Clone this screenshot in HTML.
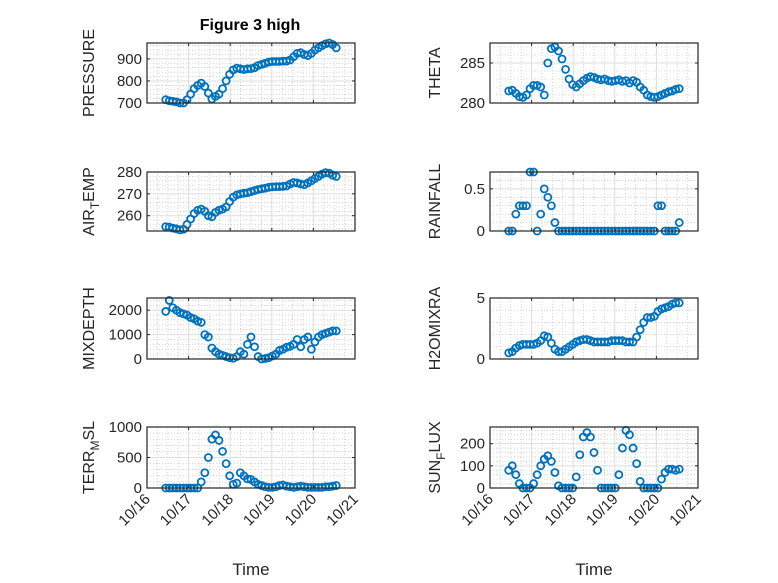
<!DOCTYPE html>
<html><head><meta charset="utf-8"><style>
body{margin:0;background:#fff;}
svg{display:block;font-family:"Liberation Sans",sans-serif;}
</style></head><body>
<svg id="fig" width="778" height="583" viewBox="0 0 778 583"></svg>
<script>
const timesStart = 16.45, timesStep = 0.0854;
const pressure = [715,710,708,705,700,700,715,740,765,780,790,775,745,718,730,740,765,800,830,850,858,855,852,855,856,860,870,875,880,886,888,888,888,890,890,895,910,925,928,920,915,925,940,950,960,968,972,965,950];
const theta = [281.5,281.6,281.2,280.8,280.7,281.0,281.8,282.2,282.2,282.0,281.0,285.0,286.8,287.0,286.5,285.5,284.2,283.0,282.3,282.0,282.4,282.8,283.1,283.3,283.2,283.0,282.9,283.0,282.8,282.7,282.8,282.9,282.7,282.8,282.5,282.8,282.6,282.0,281.6,281.0,280.8,280.7,280.8,281.0,281.2,281.4,281.5,281.7,281.8];
const airTemp = [255,254.8,254.3,254,253.5,253.8,256,258.5,261,262.5,263,262,260,259.5,261.5,262.5,263,264,266.5,268.5,269.5,270,270.3,270.5,271,271.5,272,272.3,272.6,273,273.2,273.3,273.3,273.4,273.6,274.5,275.2,275,274.5,274.2,275,276,277,278,279,279.7,279.5,278.5,278];
const rainfall = [0,0,0.2,0.3,0.3,0.3,0.7,0.7,0,0.2,0.5,0.4,0.3,0.1,0,0,0,0,0,0,0,0,0,0,0,0,0,0,0,0,0,0,0,0,0,0,0,0,0,0,0,0,0.3,0.3,0,0,0,0,0.1];
const mixDepth = [1950,2400,2100,2000,1900,1850,1800,1700,1650,1550,1500,1000,900,450,300,200,150,100,50,30,100,300,200,600,900,500,100,0,20,50,120,200,350,400,480,520,600,800,500,800,900,400,700,900,1000,1050,1100,1150,1150];
const h2oMix = [0.5,0.6,0.9,1.1,1.2,1.2,1.2,1.2,1.3,1.5,1.9,1.8,1.3,0.8,0.6,0.6,0.8,1.0,1.2,1.4,1.5,1.6,1.6,1.5,1.4,1.4,1.4,1.4,1.4,1.5,1.5,1.5,1.5,1.4,1.4,1.4,1.8,2.4,3.0,3.4,3.4,3.5,3.9,4.1,4.2,4.3,4.5,4.6,4.6];
const terrMsl = [0,0,0,0,0,0,0,0,0,0,100,250,500,800,870,780,600,400,200,60,80,250,200,150,140,100,60,40,20,10,10,20,40,50,30,20,10,20,30,20,10,10,10,10,10,20,20,30,40];
const sunFlux = [80,100,60,20,0,0,0,20,60,100,130,145,120,70,10,0,0,0,0,50,150,230,250,230,160,80,0,0,0,0,0,60,180,260,240,180,110,30,0,0,0,0,0,40,70,85,85,80,85];
const xTickLabels = ["10/16","10/17","10/18","10/19","10/20","10/21"];
const xTickDays = [16,17,18,19,20,21];

const NS="http://www.w3.org/2000/svg";
const svg=document.getElementById('fig');
function mk(tag,attrs,parent){const e=document.createElementNS(NS,tag);for(const k in attrs)e.setAttribute(k,attrs[k]);(parent||svg).appendChild(e);return e;}

const cols=[147,490], W=208;
const rows=[[43,103],[172,231],[298,359],[427,488]];
const panels=[
 {name:'pressure',data:pressure,col:0,row:0,yl:[700,972],ticks:[700,800,900],minor:20,label:['PRESSURE']},
 {name:'theta',data:theta,col:1,row:0,yl:[280,287.5],ticks:[280,285],minor:1,label:['THETA']},
 {name:'air-temp',data:airTemp,col:0,row:1,yl:[253,280],ticks:[260,270,280],minor:2,label:['AIR','T','EMP']},
 {name:'rainfall',data:rainfall,col:1,row:1,yl:[0,0.7],ticks:[0,0.5],minor:0.1,label:['RAINFALL']},
 {name:'mixdepth',data:mixDepth,col:0,row:2,yl:[0,2500],ticks:[0,1000,2000],minor:200,label:['MIXDEPTH']},
 {name:'h2omixra',data:h2oMix,col:1,row:2,yl:[0,5],ticks:[0,5],minor:1,label:['H2OMIXRA']},
 {name:'terr-msl',data:terrMsl,col:0,row:3,yl:[0,1000],ticks:[0,500,1000],minor:100,label:['TERR','M','SL']},
 {name:'sun-flux',data:sunFlux,col:1,row:3,yl:[0,275],ticks:[0,100,200],minor:20,label:['SUN','F','LUX']}
];

mk('text',{x:250,y:30,'text-anchor':'middle','font-size':16,'font-weight':'bold',fill:'#000',}).textContent='Figure 3 high';

panels.forEach(p=>{
  const x0=cols[p.col], x1=x0+W, y0=rows[p.row][0], y1=rows[p.row][1];
  const xs=d=>x0+(d-16)/5*W;
  const ys=v=>y1-(v-p.yl[0])/(p.yl[1]-p.yl[0])*(y1-y0);
  const g=mk('g',{});
  
  
  for(let d=16;d<=21;d+=0.25){ if(Math.abs(d-Math.round(d))<1e-6) continue;
    mk('line',{x1:xs(d),x2:xs(d),y1:y0,y2:y1,stroke:'#bbb','stroke-width':0.6,'stroke-dasharray':'1 2'},g);}
  for(let v=Math.ceil(p.yl[0]/p.minor)*p.minor;v<=p.yl[1]+1e-9;v+=p.minor){
    if(p.ticks.some(t=>Math.abs(t-v)<1e-6)) continue;
    mk('line',{x1:x0,x2:x1,y1:ys(v),y2:ys(v),stroke:'#bbb','stroke-width':0.6,'stroke-dasharray':'1 2'},g);}
  xTickDays.forEach(d=>mk('line',{x1:xs(d),x2:xs(d),y1:y0,y2:y1,stroke:'#dedede','stroke-width':1},g));
  p.ticks.forEach(v=>mk('line',{x1:x0,x2:x1,y1:ys(v),y2:ys(v),stroke:'#dedede','stroke-width':1},g));
  const dg=mk('g',{},g);
  
  
  p.data.forEach((v,i)=>{
    const c=mk('circle',{cx:xs(timesStart+i*timesStep),cy:ys(v),r:3.5,fill:'none',stroke:'#0072BD','stroke-width':1.8},dg);
    
    
  });
  mk('rect',{x:x0,y:y0,width:W,height:y1-y0,fill:'none',stroke:'#262626','stroke-width':1.2},g);
  xTickDays.forEach(d=>{mk('line',{x1:xs(d),x2:xs(d),y1:y1,y2:y1-3,stroke:'#262626'},g);mk('line',{x1:xs(d),x2:xs(d),y1:y0,y2:y0+3,stroke:'#262626'},g);});
  p.ticks.forEach(v=>{
    mk('line',{x1:x0,x2:x0+3,y1:ys(v),y2:ys(v),stroke:'#262626'},g);
    mk('line',{x1:x1,x2:x1-3,y1:ys(v),y2:ys(v),stroke:'#262626'},g);
    const t=mk('text',{x:x0-5,y:ys(v)+5,'text-anchor':'end','font-size':15,fill:'#262626'},g);
    t.textContent=String(v);
    
    
  });
  const lx=x0-(p.col===0?53:50), ly=(y0+y1)/2;
  const yl=mk('text',{x:lx,y:ly,'text-anchor':'middle','font-size':16,fill:'#262626',transform:`rotate(-90 ${lx} ${ly})`},g);
  
  
  if(p.label.length===1){yl.textContent=p.label[0];}
  else{
    const a=mk('tspan',{},yl);a.textContent=p.label[0];
    const b=mk('tspan',{dy:5,'font-size':12},yl);b.textContent=p.label[1];
    const c=mk('tspan',{dy:-5},yl);c.textContent=p.label[2];
  }
  if(p.row===3){
    xTickDays.forEach((d,i)=>{
      const tx=xs(d)+4, ty=y1+12;
      const t=mk('text',{x:tx,y:ty,'text-anchor':'end','font-size':15,fill:'#262626',transform:`rotate(-45 ${tx} ${ty})`},g);
      t.textContent=xTickLabels[i];
      
      
    });
    const xl=mk('text',{x:x0+W/2,y:575,'text-anchor':'middle','font-size':17,fill:'#262626'},g);
    xl.textContent='Time';
    
    
  }
});
</script>
</body></html>
